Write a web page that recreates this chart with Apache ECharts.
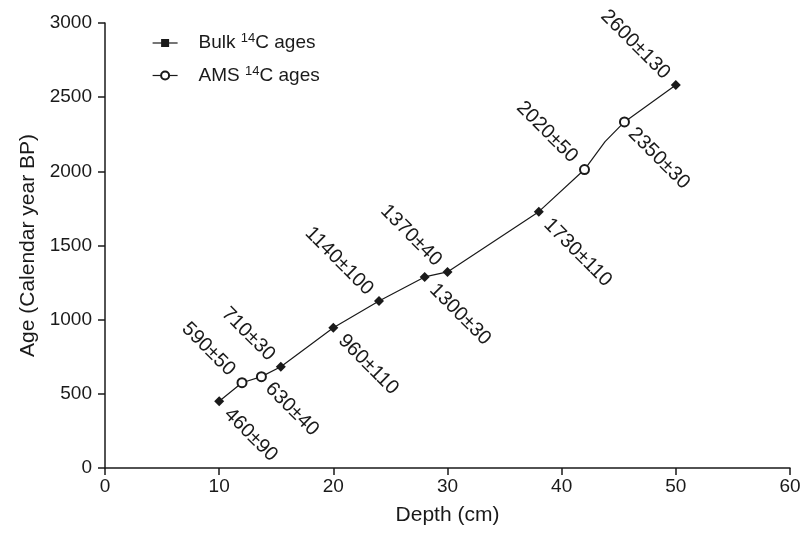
<!DOCTYPE html>
<html>
<head>
<meta charset="utf-8">
<script src="https://cdn.jsdelivr.net/npm/echarts@6/dist/echarts.min.js"></script>
<style>
html, body { margin: 0; padding: 0; background: #fff; }
#chart { width: 806px; height: 550px; }
</style>
</head>
<body>
<div id="chart"></div>
<script>
// Bulk 14C ages (depth cm, calendar age BP, label)
const bulkDepth = [10, 15.4, 20, 24, 28, 30, 38, 50];
const bulkAge = [450, 683, 946, 1126, 1288, 1322, 1728, 2582];
const bulkLabel = ['460±90', '710±30', '960±110', '1140±100', '1300±30', '1370±40', '1730±110', '2600±130'];
const bulkSide = ['below', 'above', 'below', 'above', 'below', 'above', 'below', 'above'];

// AMS 14C ages
const amsDepth = [12, 13.7, 42, 45.5];
const amsAge = [575, 616, 2012, 2333];
const amsLabel = ['590±50', '630±40', '2020±50', '2350±30'];
const amsSide = ['above', 'below', 'above', 'below'];

// extra vertex of the age curve, drawn without marker
const bendDepth = [43.8];
const bendAge = [2200];

const FONT = '"Liberation Sans", Arial, Helvetica, sans-serif';
const ink = '#1a1a1a';

// label rotated 45deg, starting (below) or ending (above) next to the point
function pointLabel(side, text, size) {
    const h = size / 2;
    if (side === 'below') {
        return { show: true, formatter: text, position: [h + 8, h + 10], align: 'left', verticalAlign: 'middle', rotate: -45 };
    }
    return { show: true, formatter: text, position: [h - 9, h - 9], align: 'right', verticalAlign: 'middle', rotate: -45 };
}

function buildPoints(depth, age, labels, sides, symbol, size) {
    return depth.map((d, i) => ({
        value: [d, age[i]],
        symbol: symbol,
        label: pointLabel(sides[i], labels[i], size)
    }));
}

// whole curve: all dated points plus the bend, ordered by depth
let curve = [];
bulkDepth.forEach((d, i) => curve.push([d, bulkAge[i]]));
amsDepth.forEach((d, i) => curve.push([d, amsAge[i]]));
bendDepth.forEach((d, i) => curve.push([d, bendAge[i]]));
curve.sort((a, b) => a[0] - b[0]);

let myChart = echarts.init(document.getElementById('chart'));
let option = {
    animation: false,
    textStyle: { fontFamily: FONT, color: ink },
    grid: {
        left: 105,
        right: 16,
        top: 23,
        bottom: 82
    },
    legend: {
        data: ['Bulk', 'AMS'],
        orient: 'vertical',
        left: 147,
        top: 27,
        itemWidth: 25,
        itemHeight: 10,
        itemGap: 12,
        formatter: function (name) {
            return '{t|' + name + ' }{s|14}{t|C ages}';
        },
        textStyle: {
            padding: [0, 0, 0, 16],
            rich: {
                t: { fontSize: 19, fontFamily: FONT, color: ink, lineHeight: 22 },
                s: { fontSize: 13, fontFamily: FONT, color: ink, verticalAlign: 'top', lineHeight: 12 }
            }
        },
        lineStyle: { color: ink, width: 1.2, opacity: 1 }
    },
    xAxis: {
        type: 'value',
        min: 0,
        max: 60,
        interval: 10,
        name: 'Depth (cm)',
        nameLocation: 'middle',
        nameGap: 37,
        nameTextStyle: { fontSize: 21, color: ink, fontFamily: FONT },
        axisLine: { lineStyle: { color: ink, width: 1.5 } },
        axisTick: { show: true, length: 7, lineStyle: { color: ink, width: 1.5 } },
        axisLabel: { fontSize: 19, color: ink, margin: 9 },
        splitLine: { show: false }
    },
    yAxis: {
        type: 'value',
        min: 0,
        max: 3000,
        interval: 500,
        name: 'Age (Calendar year BP)',
        nameLocation: 'middle',
        nameGap: 62,
        nameTextStyle: { fontSize: 21, color: ink, fontFamily: FONT },
        axisLine: { show: true, lineStyle: { color: ink, width: 1.5 } },
        axisTick: { show: true, length: 7, lineStyle: { color: ink, width: 1.5 } },
        axisLabel: {
            fontSize: 19,
            color: ink,
            margin: 13,
            formatter: function (v) { return String(v); }  // no thousands separator
        },
        splitLine: { show: false }
    },
    series: [
        {
            name: 'curve',
            type: 'line',
            data: curve,
            showSymbol: false,
            symbol: 'none',
            silent: true,
            lineStyle: { color: ink, width: 1.2 },
            z: 1
        },
        {
            name: 'Bulk',
            type: 'line',
            symbol: 'rect',  // legend icon is a square, points are diamonds
            symbolSize: 10,
            data: buildPoints(bulkDepth, bulkAge, bulkLabel, bulkSide, 'diamond', 10),
            itemStyle: { color: ink },
            lineStyle: { width: 0, opacity: 0 },
            label: { fontSize: 20, color: ink, fontFamily: FONT },
            labelLayout: { hideOverlap: false },
            z: 3
        },
        {
            name: 'AMS',
            type: 'line',
            symbol: 'emptyCircle',
            symbolSize: 9,
            data: buildPoints(amsDepth, amsAge, amsLabel, amsSide, 'emptyCircle', 9),
            itemStyle: { color: ink, borderColor: ink, borderWidth: 1.3 },
            lineStyle: { width: 0, opacity: 0 },
            label: { fontSize: 20, color: ink, fontFamily: FONT },
            z: 3
        }
    ]
};
myChart.setOption(option);

window.addEventListener('resize', function () {
    myChart.resize();
});
</script>
</body>
</html>
